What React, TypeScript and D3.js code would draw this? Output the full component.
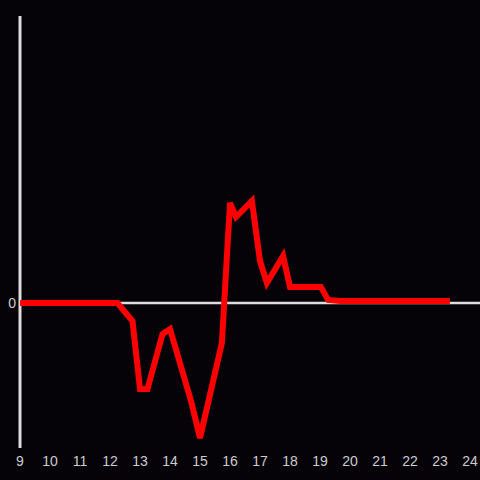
import React from "react";
import * as d3 from "d3";

const hours = [9, 12.25, 12.75, 13.0, 13.25, 13.75, 14.0, 14.7, 15.0, 15.73, 16.0, 16.2, 16.73, 17.0, 17.23, 17.77, 18.0, 19.03, 19.27, 19.67, 23.33];
const values = [0, 0, -18, -86, -86, -31, -26, -98, -135, -40, 100, 86, 102, 42, 20, 47, 16, 16, 3, 2, 2];
const xTicks = [9, 10, 11, 12, 13, 14, 15, 16, 17, 18, 19, 20, 21, 22, 23, 24];
const yTicks = [0];

export default function App() {
  const W = 480, H = 480;
  const x = d3.scaleLinear().domain([9, 24]).range([20, 470]);
  const y = d3.scaleLinear().domain([-145, 287]).range([448, 16]);
  const pts: [number, number][] = hours.map((h, i) => [h, values[i]]);
  const line = d3.line<[number, number]>().x(d => x(d[0])).y(d => y(d[1]));
  return (
    <svg width={W} height={H} style={{ position: "absolute", left: 0, top: 0, background: "#050308" }}>
      <rect x={0} y={0} width={W} height={H} fill="#050308" />
      <line x1={20} x2={20} y1={16} y2={448} stroke="#dddddd" strokeWidth={3} />
      {yTicks.map(t => (
        <g key={t}>
          <line x1={20} x2={480} y1={y(t)} y2={y(t)} stroke="#dddddd" strokeWidth={2.5} />
          <text x={16} y={y(t)} dy="0.35em" textAnchor="end" fill="#cccccc" fontSize={14} fontFamily="Liberation Sans, Arial, sans-serif">{t}</text>
        </g>
      ))}
      <path d={line(pts) || ""} fill="none" stroke="#ff0000" strokeWidth={6} strokeLinejoin="miter" strokeLinecap="butt" />
      {xTicks.map(t => (
        <text key={t} x={x(t)} y={461} dy="0.35em" textAnchor="middle" fill="#cccccc" fontSize={14} fontFamily="Liberation Sans, Arial, sans-serif">{t}</text>
      ))}
    </svg>
  );
}
